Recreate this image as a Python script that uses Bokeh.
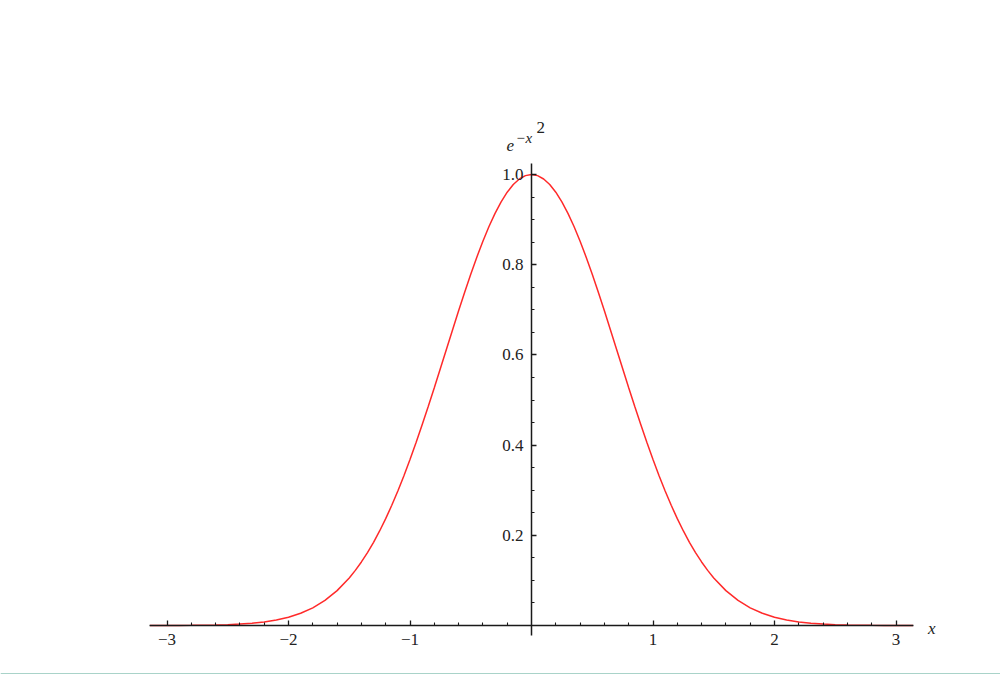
from bokeh.plotting import figure
from bokeh.models import Range1d, LinearAxis, FixedTicker, Label, Span
from bokeh.embed import file_html
from bokeh.resources import INLINE

# Curve samples of e^(-x^2)
xs = [-3.14, -3.1, -3.0, -2.9, -2.8, -2.7, -2.6, -2.5, -2.4, -2.3, -2.2, -2.1, -2.0,
      -1.9, -1.8, -1.7, -1.6, -1.5, -1.45, -1.4, -1.35, -1.3, -1.25, -1.2, -1.15, -1.1, -1.05, -1.0,
      -0.95, -0.9, -0.85, -0.8, -0.75, -0.7, -0.65, -0.6, -0.55, -0.5, -0.45, -0.4, -0.35,
      -0.3, -0.25, -0.2, -0.15, -0.1, -0.05, 0.0,
      0.05, 0.1, 0.15, 0.2, 0.25, 0.3, 0.35, 0.4, 0.45, 0.5, 0.55, 0.6, 0.65, 0.7, 0.75,
      0.8, 0.85, 0.9, 0.95, 1.0, 1.05, 1.1, 1.15, 1.2, 1.25, 1.3, 1.35, 1.4, 1.45, 1.5,
      1.6, 1.7, 1.8, 1.9, 2.0,
      2.1, 2.2, 2.3, 2.4, 2.5, 2.6, 2.7, 2.8, 2.9, 3.0, 3.1, 3.14]
ys = [0.00005, 0.00007, 0.0001, 0.0002, 0.0004, 0.0007, 0.0012, 0.0019, 0.0032, 0.0050, 0.0079, 0.0122, 0.0183,
      0.0271, 0.0392, 0.0556, 0.0773, 0.1054, 0.1222, 0.1409, 0.1616, 0.1845, 0.2096, 0.2369, 0.2665, 0.2982, 0.3320, 0.3679,
      0.4056, 0.4449, 0.4855, 0.5273, 0.5698, 0.6126, 0.6554, 0.6977, 0.7390, 0.7788, 0.8167, 0.8521, 0.8847,
      0.9139, 0.9394, 0.9608, 0.9778, 0.9900, 0.9975, 1.0,
      0.9975, 0.9900, 0.9778, 0.9608, 0.9394, 0.9139, 0.8847, 0.8521, 0.8167, 0.7788, 0.7390, 0.6977, 0.6554, 0.6126, 0.5698,
      0.5273, 0.4855, 0.4449, 0.4056, 0.3679, 0.3320, 0.2982, 0.2665, 0.2369, 0.2096, 0.1845, 0.1616, 0.1409, 0.1222, 0.1054,
      0.0773, 0.0556, 0.0392, 0.0271, 0.0183,
      0.0122, 0.0079, 0.0050, 0.0032, 0.0019, 0.0012, 0.0007, 0.0004, 0.0002, 0.0001, 0.00007, 0.00005]

x_ticks = [-3, -2, -1, 1, 2, 3]
x_tick_labels = ["\u22123", "\u22122", "\u22121", "1", "2", "3"]
x_minor = [-2.8, -2.6, -2.4, -2.2, -1.8, -1.6, -1.4, -1.2, -0.8, -0.6, -0.4, -0.2,
           0.2, 0.4, 0.6, 0.8, 1.2, 1.4, 1.6, 1.8, 2.2, 2.4, 2.6, 2.8]
y_ticks = [0.2, 0.4, 0.6, 0.8, 1.0]
y_tick_labels = ["0.2", "0.4", "0.6", "0.8", "1.0"]
y_minor = [0.05, 0.1, 0.15, 0.25, 0.3, 0.35, 0.45, 0.5, 0.55, 0.65, 0.7, 0.75,
           0.85, 0.9, 0.95]

x_axis_span = (-3.14, 3.14)
y_axis_span = (-0.022, 1.025)

W, H = 1000, 674
# layout: pixels per unit and origin position inside the figure
px_x, px_y = 121.5, 451.0
ox, oy = 531.0, 625.0
x_range = Range1d(-ox / px_x, (W - ox) / px_x)
y_range = Range1d(-(H - oy) / px_y, oy / px_y)

p = figure(width=W, height=H, output_backend="svg", toolbar_location=None,
           x_axis_type=None, y_axis_type=None, x_range=x_range, y_range=y_range,
           min_border=0, outline_line_color=None)
p.xgrid.visible = False
p.ygrid.visible = False

serif = "Liberation Serif"
axis_color = "#1a1a1a"
text_color = "#222222"

xaxis = LinearAxis(fixed_location=0,
                   ticker=FixedTicker(ticks=x_ticks, minor_ticks=x_minor),
                   bounds=x_axis_span,
                   major_label_overrides={t: l for t, l in zip(x_ticks, x_tick_labels)},
                   major_tick_in=5, major_tick_out=0, minor_tick_in=3, minor_tick_out=0,
                   axis_line_color=axis_color, axis_line_width=1.5,
                   major_tick_line_color=axis_color, major_tick_line_width=1.3,
                   minor_tick_line_color=axis_color, minor_tick_line_width=1.1,
                   major_label_standoff=8,
                   major_label_text_font=serif, major_label_text_font_size="17px",
                   major_label_text_color=text_color)
p.add_layout(xaxis, "below")

yaxis = LinearAxis(fixed_location=0,
                   ticker=FixedTicker(ticks=y_ticks, minor_ticks=y_minor),
                   bounds=y_axis_span,
                   major_label_overrides={t: l for t, l in zip(y_ticks, y_tick_labels)},
                   major_tick_in=5, major_tick_out=0, minor_tick_in=3, minor_tick_out=0,
                   axis_line_color=axis_color, axis_line_width=1.5,
                   major_tick_line_color=axis_color, major_tick_line_width=1.3,
                   minor_tick_line_color=axis_color, minor_tick_line_width=1.1,
                   major_label_standoff=8,
                   major_label_text_font=serif, major_label_text_font_size="17px",
                   major_label_text_color=text_color)
p.add_layout(yaxis, "left")

p.line(xs, ys, line_color="#ff2a2a", line_width=1.5)

# axis labels
p.add_layout(Label(x=x_axis_span[1], y=0, x_offset=15, y_offset=-3, text="x",
                   text_font=serif, text_font_style="italic", text_font_size="17px",
                   text_baseline="middle", text_color=text_color))
p.add_layout(Label(x=0, y=1.0, x_offset=-25, y_offset=29, text="e",
                   text_font=serif, text_font_style="italic", text_font_size="17px",
                   text_baseline="alphabetic", text_color=text_color))
p.add_layout(Label(x=0, y=1.0, x_offset=-16, y_offset=37, text="\u2212x",
                   text_font=serif, text_font_style="italic", text_font_size="15px",
                   text_baseline="alphabetic", text_color=text_color))
p.add_layout(Label(x=0, y=1.0, x_offset=5, y_offset=47, text="2",
                   text_font=serif, text_font_size="17px",
                   text_baseline="alphabetic", text_color=text_color))

p.add_layout(Span(location=y_range.start, dimension="width",
                  line_color="#a9d3c9", line_width=3))

open("out.html", "w").write(file_html(p, INLINE))
